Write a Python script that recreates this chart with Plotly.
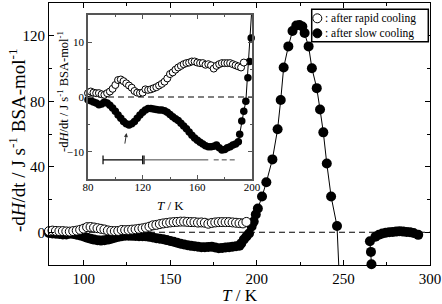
import plotly.graph_objects as go

# ---------------- data ----------------
# after rapid cooling (open circles)
rapid_T = [80, 82, 84, 86, 88, 90, 92, 94, 96, 98, 100, 102, 104, 106, 108, 110, 112, 114, 116, 118,
           120, 122, 124, 126, 128, 130, 132, 134, 136, 138, 140, 142, 144, 146, 148, 150, 152, 154,
           156, 158, 160, 162, 164, 166, 168, 170, 172, 174, 176, 178, 180, 182, 184, 186, 188, 190,
           192, 194]
rapid_v = [0.7, 1.0, 0.8, 0.7, 0.7, 0.5, 0.4, 0.7, 1.0, 1.5, 2.2, 3.1, 3.2, 2.9, 2.5, 2.1, 1.7, 1.1,
           0.8, 0.7, 0.8, 1.4, 1.3, 1.4, 1.6, 1.8, 2.1, 2.4, 2.8, 3.4, 4.2, 4.5, 5.0, 5.4, 5.7, 6.0,
           6.2, 6.3, 6.5, 6.5, 6.3, 6.2, 6.2, 5.9, 6.0, 5.8, 5.2, 5.7, 6.0, 6.2, 6.2, 6.2, 6.2, 6.0,
           5.8, 5.6, 5.4, 6.3]

# after slow cooling (filled circles)
slow_T = [80, 82, 84, 86, 88, 90, 92, 94, 96, 98, 100, 102, 104, 106, 108, 110, 112, 114, 116, 118,
          120, 122, 124, 126, 128, 130, 132, 134, 136, 138, 140, 142, 144, 146, 148, 150, 152, 154,
          156, 158, 160, 162, 164, 166, 168, 170, 172, 174, 176, 178, 180, 182, 184, 186, 188, 190,
          191, 192.5, 194, 195.5, 197, 198.2, 199.4, 200.6, 203, 205.5, 209, 212, 213.8, 215.5,
          218.2, 220.6, 222.8, 224.6, 226.3, 227.6, 229.9, 231.8, 234.6, 236.5, 238.4, 240.4,
          242.9, 246.3]
slow_v = [-0.5, -0.7, -0.9, -1.1, -1.4, -1.3, -0.9, -1.1, -1.5, -2.0, -2.6, -3.3, -3.9, -4.5, -4.9,
          -5.1, -4.9, -4.5, -3.9, -3.3, -2.8, -2.4, -2.1, -2.1, -2.2, -2.3, -2.4, -2.4, -2.5, -2.8,
          -3.2, -3.6, -4.0, -4.3, -4.8, -5.3, -5.8, -6.4, -7.0, -7.5, -7.9, -8.3, -8.6, -8.9, -9.1,
          -9.1, -9.0, -8.8, -9.3, -9.7, -9.6, -9.3, -9.1, -8.8, -8.6, -8.2, -6.8, -4.4, -2.6, -0.8,
          3.5, 6.5, 10.8, 14.5, 21.8, 30.5, 44.5, 62.9, 80.8, 100.6, 113.5, 122.9, 126.3, 126.6,
          125.7, 121.7, 113.5, 100.2, 88.0, 75.0, 61.0, 42.0, 21.8, 3.8]

# steep drop below the axis after the last point
drop_T = [246.3, 249]
drop_v = [3.8, -60]

# points after the gap
tail_T = [266.2, 265.9, 265.3, 268.5, 270.5, 272.5, 274.5, 276.5, 278.5, 280.5, 282.5, 284.5,
          286.5, 288.5, 290.5, 293.2]
tail_v = [-19.5, -12.0, -5.5, -2.7, -1.5, -0.8, -0.3, 0.0, 0.2, 0.4, 0.6, 0.4, 0.2, 0.0, -0.5, -1.6]

# range bars in the inset
bar_level = -11.5
bar_a = [91, 120]
bar_b = [121, 168]
bar_c = [172, 188]

legend_labels = [": after rapid cooling", ": after slow cooling"]
y_title = "-d<i>H</i>/dt / J s<sup>-1</sup> BSA-mol<sup>-1</sup>"
x_title = "<i>T</i> / K"

FONT = "Liberation Serif"

fig = go.Figure()

# ---------------- main plot ----------------
fig.add_trace(go.Scatter(x=drop_T, y=drop_v, mode="lines", line=dict(color="black", width=1),
                         showlegend=False, hoverinfo="skip"))
fig.add_trace(go.Scatter(x=slow_T, y=slow_v, mode="lines+markers",
                         line=dict(color="black", width=1),
                         marker=dict(size=10, color="black"), cliponaxis=False, showlegend=False))
fig.add_trace(go.Scatter(x=tail_T, y=tail_v, mode="lines+markers",
                         line=dict(color="black", width=1),
                         marker=dict(size=10, color="black"), cliponaxis=False, showlegend=False))
fig.add_trace(go.Scatter(x=rapid_T, y=rapid_v, mode="markers",
                         marker=dict(size=9, color="white", line=dict(color="black", width=1)),
                         cliponaxis=False, showlegend=False))

# ---------------- inset ----------------
in_T = [t for t, v in zip(slow_T, slow_v) if t <= 200 and v <= 15]
in_v = [v for t, v in zip(slow_T, slow_v) if t <= 200 and v <= 15]
fig.add_trace(go.Scatter(x=slow_T, y=slow_v, mode="lines", line=dict(color="black", width=1),
                         xaxis="x2", yaxis="y2", showlegend=False))
fig.add_trace(go.Scatter(x=in_T, y=in_v, mode="markers", marker=dict(size=7.5, color="black"),
                         xaxis="x2", yaxis="y2", cliponaxis=False, showlegend=False))
fig.add_trace(go.Scatter(x=rapid_T, y=rapid_v, mode="markers",
                         marker=dict(size=7, color="white", line=dict(color="black", width=1)),
                         xaxis="x2", yaxis="y2", cliponaxis=False, showlegend=False))

# range bars
fig.add_trace(go.Scatter(x=bar_a, y=[bar_level] * 2, mode="lines", line=dict(color="black", width=1.2),
                         xaxis="x2", yaxis="y2", showlegend=False))
caps_x, caps_y = [], []
for t in [bar_a[0], bar_a[1], bar_b[0]]:
    caps_x += [t, t, None]
    caps_y += [bar_level - 0.8, bar_level + 0.8, None]
fig.add_trace(go.Scatter(x=caps_x, y=caps_y, mode="lines", line=dict(color="black", width=1.2),
                         xaxis="x2", yaxis="y2", showlegend=False))
fig.add_trace(go.Scatter(x=bar_b, y=[bar_level] * 2, mode="lines", line=dict(color="#444", width=1),
                         xaxis="x2", yaxis="y2", showlegend=False))
fig.add_trace(go.Scatter(x=bar_c, y=[bar_level] * 2, mode="lines",
                         line=dict(color="#444", width=1, dash="5px,3px"),
                         xaxis="x2", yaxis="y2", showlegend=False))

# zero lines
fig.add_shape(type="line", xref="x", yref="y", x0=80, x1=300, y0=0, y1=0, layer="below",
              line=dict(color="black", width=1, dash="6px,4px"))
fig.add_shape(type="line", xref="x2", yref="y2", x0=80, x1=200, y0=0, y1=0, layer="below",
              line=dict(color="black", width=1, dash="6px,4px"))

# arrow in inset
fig.add_annotation(x=108.2, y=-6.6, ax=106.8, ay=-8.8, xref="x2", yref="y2", axref="x2", ayref="y2",
                   text="", showarrow=True, arrowhead=2, arrowsize=0.8, arrowwidth=1, arrowcolor="#333")


def px(x):
    return (x - 49) / 381


def py(y):
    return (265 - y) / 262


# legend (drawn manually)
fig.add_shape(type="rect", xref="paper", yref="paper", x0=px(311.7), x1=px(428.3), y0=py(41.7),
              y1=py(9.3), line=dict(color="black", width=1.5), fillcolor="white")
for i, (fill, yy) in enumerate([("white", 18.3), ("black", 33.3)]):
    fig.add_shape(type="circle", xref="paper", yref="paper", xsizemode="pixel", ysizemode="pixel",
                  xanchor=px(317.3), yanchor=py(yy), x0=-4.5, x1=4.5, y0=-4.5, y1=4.5,
                  fillcolor=fill, line=dict(color="black", width=1))
    fig.add_annotation(x=px(322.5), y=py(yy), xref="paper", yref="paper", xanchor="left",
                       yanchor="middle", text=legend_labels[i], showarrow=False,
                       font=dict(family=FONT, size=11.5, color="black"))

# axis titles as annotations for exact placement
fig.add_annotation(x=0.5, y=py(295), xref="paper", yref="paper", xanchor="center", yanchor="middle",
                   text=x_title, showarrow=False, font=dict(family=FONT, size=17, color="black"))
fig.add_annotation(x=px(17), y=py(140), xref="paper", yref="paper", xanchor="center",
                   yanchor="middle", text=y_title, textangle=-90, showarrow=False,
                   font=dict(family=FONT, size=19, color="black"))
fig.add_annotation(x=px(170), y=py(205), xref="paper", yref="paper", xanchor="center",
                   yanchor="middle", text=x_title, showarrow=False,
                   font=dict(family=FONT, size=13, color="black"))
fig.add_annotation(x=px(63), y=py(92), xref="paper", yref="paper", xanchor="center",
                   yanchor="middle", text=y_title, textangle=-90, showarrow=False,
                   font=dict(family=FONT, size=12.5, color="black"))

axis_common = dict(showline=True, linecolor="black", mirror="ticks", ticks="inside",
                   showgrid=False, zeroline=False, tickcolor="black")

fig.update_layout(
    width=442, height=304,
    margin=dict(l=49, r=12, t=3, b=39, autoexpand=False),
    paper_bgcolor="white", plot_bgcolor="white",
    font=dict(family=FONT, color="black"),
    hovermode=False,
    xaxis=dict(domain=[0, 1], range=[80, 300], tick0=100, dtick=50, ticklen=5, linewidth=1.2,
               minor=dict(dtick=25, tick0=0, ticks="inside", ticklen=3, tickcolor="black"),
               tickfont=dict(size=15, family=FONT), ticklabelstandoff=0,
               anchor="y", **axis_common),
    yaxis=dict(domain=[0, 1], range=[-20, 140], tick0=0, dtick=40, ticklen=5, linewidth=1.2,
               minor=dict(dtick=20, tick0=0, ticks="inside", ticklen=3, tickcolor="black"),
               tickfont=dict(size=15, family=FONT),
               anchor="x", **axis_common),
    xaxis2=dict(domain=[px(88), px(252)], range=[80, 200], tick0=80, dtick=40, ticklen=4,
                linewidth=1.5, linecolor="#555",
                minor=dict(dtick=20, tick0=0, ticks="inside", ticklen=2.5, tickcolor="#555"),
                tickfont=dict(size=11, family=FONT), ticklabelstandoff=-3,
                anchor="y2", showgrid=False, zeroline=False, mirror="ticks", ticks="inside",
                showline=True, tickcolor="#555"),
    yaxis2=dict(domain=[py(179), py(15)], range=[-15, 15], tick0=0, dtick=10, ticklen=4,
                linewidth=1.5, linecolor="#555",
                minor=dict(dtick=5, tick0=0, ticks="inside", ticklen=2.5, tickcolor="#555"),
                tickfont=dict(size=11, family=FONT),
                anchor="x2", showgrid=False, zeroline=False, mirror="ticks", ticks="inside",
                showline=True, tickcolor="#555"),
)

fig.write_html("out.html", config={"displayModeBar": False},
               post_script="document.body.style.margin='0';")
